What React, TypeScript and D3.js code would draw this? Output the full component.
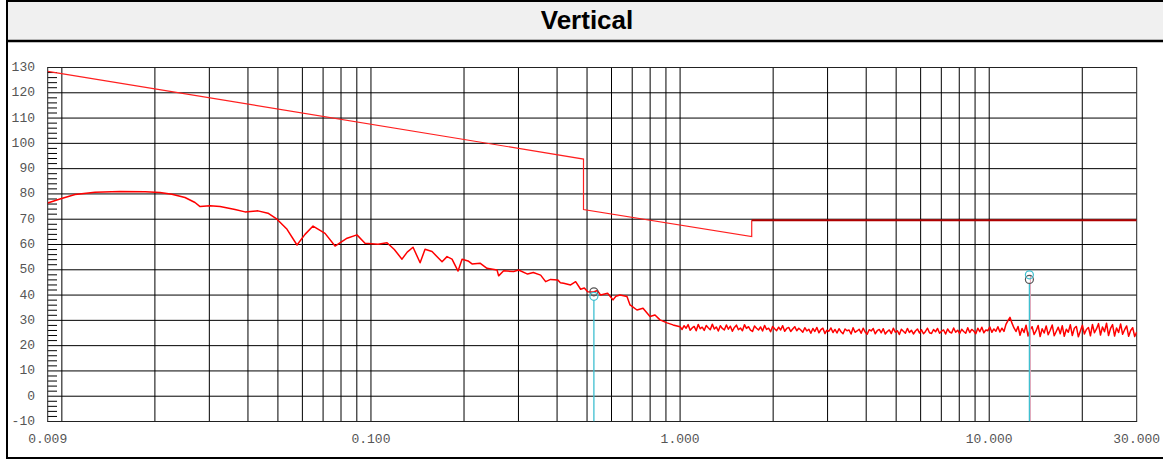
import React from "react";
import * as d3 from "d3";

const TITLE = "Vertical";
const Y_TICKS = [-10, 0, 10, 20, 30, 40, 50, 60, 70, 80, 90, 100, 110, 120, 130];
const X_TICKS = [0.009, 0.1, 1, 10, 30];
const X_TICK_LABELS = ["0.009", "0.100", "1.000", "10.000", "30.000"];
const GRID_MULTS = [1, 2, 3, 4, 5, 6, 7, 8, 9];
const GRID_DECADES = [0.01, 0.1, 1, 10];

// Limit line (freq MHz, level)
const LIMIT_THIN: [number, number][] = [
  [0.009, 128.5],
  [0.487, 93.8],
  [0.487, 73.8],
  [1.705, 63.1],
  [1.705, 69.6],
];
const LIMIT_FLAT: [number, number][] = [
  [1.705, 69.6],
  [30, 69.6],
];

// Measured trace, low-frequency part (freq MHz, level)
const TRACE_LOW: [number, number][] = [
  [0.009, 76.4], [0.00986, 78.0], [0.01103, 79.8], [0.0128, 80.7], [0.01542, 81.0],
  [0.0186, 80.9], [0.02077, 80.6], [0.0227, 79.9], [0.02503, 78.6], [0.02696, 76.6],
  [0.028, 75.0], [0.03015, 75.3], [0.0325, 75.0], [0.03633, 73.8], [0.03913, 72.9],
  [0.0431, 73.3], [0.04643, 72.4], [0.04966, 70.0], [0.05352, 66.0], [0.05765, 59.8],
  [0.06118, 64.0], [0.06495, 67.3], [0.07103, 64.4], [0.07652, 59.4], [0.0837, 62.5],
  [0.0901, 63.8], [0.09566, 60.5], [0.1054, 60.1], [0.1127, 60.7], [0.119, 58.0],
  [0.126, 54.2], [0.131, 57.0], [0.1368, 58.9], [0.1442, 52.8], [0.1496, 58.1],
  [0.1576, 57.2], [0.1698, 53.2], [0.1762, 55.2], [0.1829, 54.2], [0.1913, 49.5],
  [0.1971, 54.2], [0.2061, 53.5], [0.2123, 52.3], [0.2253, 52.6], [0.2373, 50.6],
  [0.2558, 49.9], [0.2588, 47.6], [0.2687, 49.6], [0.2894, 49.3], [0.3004, 49.9],
  [0.3212, 48.3], [0.335, 48.9], [0.3539, 47.9], [0.3673, 45.3], [0.3812, 46.2],
  [0.4017, 46.0], [0.41, 44.9], [0.4201, 44.7], [0.4425, 44.0], [0.4593, 45.3],
  [0.4767, 42.3], [0.49, 42.8], [0.5023, 41.3], [0.5252, 41.2], [0.54, 41.8],
  [0.5534, 40.0], [0.5828, 40.7], [0.6067, 38.1], [0.62, 39.5], [0.6393, 40.0],
  [0.6733, 39.4], [0.6887, 36.1], [0.7253, 34.1], [0.7587, 34.8], [0.7991, 31.5],
  [0.8295, 32.1], [0.8612, 30.2], [0.9074, 29.0], [0.9489, 28.2],
];

// Measured trace, 1 MHz .. 30 MHz, equally spaced on the log axis
const TRACE_HF_START = 1.0;
const TRACE_HF_END = 30;
const TRACE_HF: number[] = [
  27.5, 26.4, 27.9, 26.9, 28.3, 26.1, 27.0, 27.6, 25.9, 28.4, 26.7, 27.3, 26.0, 28.0, 27.1, 26.3, 28.5, 26.6, 27.4, 25.8,
  27.9, 26.8, 26.2, 28.2, 26.5, 27.7, 25.7, 27.2, 28.1, 26.3, 27.0, 25.9, 28.3, 26.8, 27.5, 26.1, 25.6, 27.8, 26.9, 26.2,
  27.4, 25.8, 28.0, 26.4, 26.9, 25.5, 27.6, 26.7, 25.9, 27.3, 26.2, 27.9, 25.7, 26.8, 27.2, 25.6, 26.6, 27.5, 25.9, 26.9,
  26.2, 25.3, 27.1, 25.8, 26.5, 24.9, 26.8, 25.6, 27.2, 25.1, 26.3, 26.9, 24.8, 26.1, 25.7, 27.0, 25.2, 26.4, 25.0, 26.7,
  25.5, 24.7, 26.6, 25.9, 26.2, 24.6, 27.1, 25.3, 25.8, 26.5, 24.9, 26.9, 25.4, 24.5, 26.3, 25.8, 26.8, 24.7, 25.9, 26.4,
  25.1, 26.7, 24.6, 25.6, 26.2, 24.8, 26.9, 25.3, 25.9, 24.4, 26.5, 25.7, 24.9, 26.8, 25.2, 26.1, 24.6, 25.8, 26.6, 25.0,
  26.3, 24.7, 25.6, 26.9, 25.1, 24.8, 26.4, 25.5, 26.8, 24.9, 25.7, 26.2, 24.6, 26.6, 25.4, 25.0, 27.0, 25.3, 26.1, 24.8,
  26.5, 25.6, 24.9, 27.1, 25.2, 26.4, 25.8, 24.7, 26.9, 25.5, 27.3, 25.1, 26.2, 25.9, 27.4, 25.3, 26.6, 25.7, 27.5, 25.4,
  26.9, 25.6, 28.4, 29.9, 31.2, 28.9, 27.0, 25.6,
  27.6, 24.1, 26.8, 25.2, 28.1, 23.8, 26.3, 27.5, 24.4, 25.9, 28.0, 23.6, 26.7, 25.0, 27.8, 24.3, 26.1, 28.2, 23.9, 25.6,
  27.3, 24.7, 27.9, 23.7, 26.5, 25.3, 28.3, 24.0, 26.9, 27.6, 23.5, 25.8, 28.1, 24.6, 26.4, 27.2, 23.9, 28.4, 25.1, 26.6,
  28.7, 24.2, 27.4, 25.5, 28.9, 24.0, 26.8, 28.3, 23.8, 27.0, 25.2, 28.6, 24.5, 26.3, 27.8, 23.7, 26.0, 27.1, 23.6, 25.4,
];

// Markers: freq, grey-circle level, cyan-circle level
const MARKERS: { f: number; a: number; b: number; pink: boolean }[] = [
  { f: 0.5262, a: 41.3, b: 39.5, pink: false },
  { f: 13.49, a: 46.2, b: 48.0, pink: true },
];

const W = 1163;
const H = 459;
const PL = 47.7;
const PR = 1136.7;
const PT = 67.5;
const PB = 421.5;

export default function App() {
  const x = d3.scaleLog().domain([0.009, 30]).range([PL, PR]);
  const y = d3.scaleLinear().domain([-10, 130]).range([PB, PT]);

  const gridFreqs: number[] = [];
  GRID_DECADES.forEach((d) =>
    GRID_MULTS.forEach((m) => {
      const f = d * m;
      if (f < 30 && f > 0.009) gridFreqs.push(f);
    })
  );

  const minorY: number[] = [];
  for (let v = -10; v < 130; v += 2) if (v % 10 !== 0) minorY.push(v);

  const line = d3
    .line<[number, number]>()
    .x((d) => x(d[0]))
    .y((d) => y(d[1]));

  // place the HF samples evenly along the log frequency axis
  const hfPos = d3
    .scaleLinear()
    .domain([0, TRACE_HF.length - 1])
    .range([Math.log10(TRACE_HF_START), Math.log10(TRACE_HF_END)]);
  const hfPts: [number, number][] = TRACE_HF.map((v, i) => [Math.pow(10, hfPos(i)), v]);
  const trace: [number, number][] = [...TRACE_LOW, ...hfPts];

  const mono = "'Liberation Mono', 'Courier New', monospace";

  return (
    <svg
      width={W}
      height={H}
      style={{ position: "absolute", left: 0, top: 0, background: "#fff" }}
    >
      <defs>
        <clipPath id="plotclip">
          <rect x={PL} y={PT} width={PR - PL} height={PB - PT} />
        </clipPath>
      </defs>
      {/* frame */}
      <rect x={8} y={1} width={W - 8} height={39} fill="#f0f0f0" />
      <line x1={7} x2={W} y1={1} y2={1} stroke="#000" strokeWidth={2} />
      <line x1={7} x2={W} y1={41} y2={41} stroke="#000" strokeWidth={2.5} />
      <line x1={7} x2={7} y1={0} y2={459} stroke="#000" strokeWidth={2} />
      <line x1={7} x2={W} y1={458} y2={458} stroke="#000" strokeWidth={2} />
      <text
        x={587}
        y={29}
        textAnchor="middle"
        fontFamily="'Liberation Sans', Arial, sans-serif"
        fontWeight="bold"
        fontSize={26}
        fill="#000"
      >
        {TITLE}
      </text>

      {/* grid */}
      {gridFreqs.map((f) => (
        <line key={"gx" + f} x1={x(f)} x2={x(f)} y1={PT} y2={PB} stroke="#000" strokeWidth={1} />
      ))}
      {Y_TICKS.map((v) => (
        <line key={"gy" + v} x1={PL} x2={PR} y1={y(v)} y2={y(v)} stroke="#000" strokeWidth={1} />
      ))}
      {minorY.map((v) => (
        <line key={"my" + v} x1={PL} x2={57} y1={y(v)} y2={y(v)} stroke="#000" strokeWidth={1} />
      ))}
      <rect x={PL} y={PT} width={PR - PL} height={PB - PT} fill="none" stroke="#222" strokeWidth={1} />

      {/* axis labels */}
      {Y_TICKS.map((v) => (
        <text
          key={"ly" + v}
          x={35}
          y={y(v)}
          textAnchor="end"
          dominantBaseline="central"
          fontFamily={mono}
          fontSize={13}
          fill="#555"
        >
          {v}
        </text>
      ))}
      {X_TICKS.map((f, i) => (
        <text
          key={"lx" + f}
          x={x(f)}
          y={439}
          textAnchor="middle"
          dominantBaseline="central"
          fontFamily={mono}
          fontSize={13}
          fill="#555"
        >
          {X_TICK_LABELS[i]}
        </text>
      ))}

      <g clipPath="url(#plotclip)">
        {/* limit */}
        <path d={line(LIMIT_THIN) || ""} fill="none" stroke="#ff2020" strokeWidth={1.2} />
        <path d={line(LIMIT_FLAT) || ""} fill="none" stroke="#b00000" strokeWidth={2} />
        {/* trace */}
        <path
          d={line(trace) || ""}
          fill="none"
          stroke="#ff0000"
          strokeWidth={1.5}
          strokeLinejoin="round"
        />
        {/* markers */}
        {MARKERS.map((m, i) => {
          const mx = x(m.f);
          const low = Math.min(y(m.a), y(m.b));
          return (
            <g key={"m" + i}>
              {m.pink && (
                <line x1={mx + 1} x2={mx + 1} y1={low} y2={PB} stroke="#e8a0b4" strokeWidth={1} />
              )}
              <line
                x1={mx}
                x2={mx}
                y1={Math.max(y(m.a), y(m.b)) + 4}
                y2={PB}
                stroke="#3fbfd0"
                strokeWidth={1.3}
              />
              <circle cx={mx} cy={y(m.a)} r={4} fill="none" stroke="#555" strokeWidth={1.2} />
              <circle cx={mx} cy={y(m.b)} r={4} fill="none" stroke="#3fbfd0" strokeWidth={1.2} />
            </g>
          );
        })}
      </g>
    </svg>
  );
}
